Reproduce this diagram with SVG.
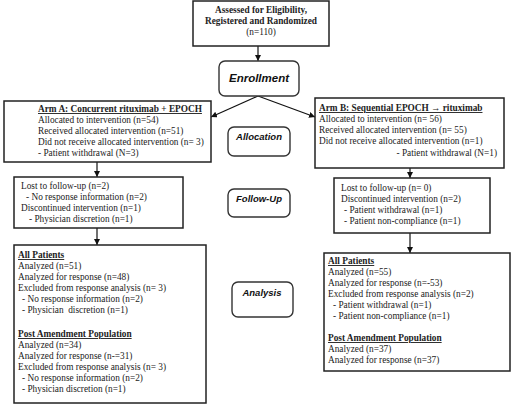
<svg xmlns="http://www.w3.org/2000/svg" width="520" height="405" viewBox="0 0 520 405">
<defs>
<marker id="ah" viewBox="0 0 10 10" refX="10" refY="5" markerWidth="6" markerHeight="6" orient="auto" markerUnits="userSpaceOnUse">
<path d="M0,0 L10,5 L0,10 z" fill="#111"/>
</marker>
<style>
.box{fill:#fff;stroke:#222;stroke-width:1.5}
.rbox{fill:#fff;stroke:#333;stroke-width:1.4}
.t{font-family:"Liberation Serif","Times New Roman",serif;font-size:9.3px;fill:#222;white-space:pre}
.b{font-weight:bold}
.u{text-decoration:underline}
.lbl{font-family:"Liberation Sans",Arial,sans-serif;font-weight:bold;font-style:italic;font-size:9.5px;fill:#111;text-anchor:middle}
.c{text-anchor:middle}
.con{stroke:#111;stroke-width:1.2;fill:none;marker-end:url(#ah)}
</style>
</defs>
<rect width="520" height="405" fill="#fff"/>

<g id="connectors">
<line class="con" x1="258" y1="46" x2="258" y2="61"/>
<line class="con" x1="258" y1="96" x2="211" y2="117"/>
<line class="con" x1="258" y1="96" x2="315" y2="117"/>
<line class="con" x1="97" y1="162" x2="97" y2="177"/>
<line class="con" x1="97" y1="228" x2="97" y2="245"/>
<line class="con" x1="410" y1="168" x2="410" y2="178"/>
<line class="con" x1="410" y1="233" x2="410" y2="253"/>
</g>

<g id="assessed">
<rect class="box" x="193" y="1" width="136" height="45"/>
<text class="t b c" x="261" y="13">Assessed for Eligibility,</text>
<text class="t b c" x="261" y="24">Registered and Randomized</text>
<text class="t c" x="261" y="35">(n=110)</text>
</g>

<g id="enrollment">
<rect class="rbox" x="219" y="61" width="80" height="35" rx="6"/>
<text class="lbl" x="259" y="82" style="font-size:11.5px">Enrollment</text>
</g>

<g id="armA">
<rect class="box" x="4" y="101" width="207" height="61"/>
<text class="t b u" x="38" y="112">Arm A: Concurrent rituximab + EPOCH</text>
<text class="t" x="38" y="123">Allocated to intervention (n=54)</text>
<text class="t" x="38" y="134">Received allocated intervention (n=51)</text>
<text class="t" x="38" y="145">Did not receive allocated intervention (n= 3)</text>
<text class="t" x="38" y="156">- Patient withdrawal (N=3)</text>
</g>

<g id="armB">
<rect class="box" x="315" y="98" width="189" height="70"/>
<text class="t b u" x="319" y="111">Arm B: Sequential EPOCH → rituximab</text>
<text class="t" x="319" y="122">Allocated to intervention (n= 56)</text>
<text class="t" x="319" y="133">Received allocated intervention (n= 55)</text>
<text class="t" x="319" y="144">Did not receive allocated intervention (n=1)</text>
<text class="t" x="497" y="156" text-anchor="end">- Patient withdrawal (N=1)</text>
</g>

<g id="allocation">
<rect class="rbox" x="228" y="127" width="62" height="29" rx="6"/>
<text class="lbl" x="259" y="140">Allocation</text>
</g>

<g id="followupA">
<rect class="box" x="14" y="177" width="169" height="51"/>
<text class="t" x="21" y="189">Lost to follow-up (n=2)</text>
<text class="t" x="26" y="200">- No response information (n=2)</text>
<text class="t" x="21" y="211">Discontinued intervention (n=1)</text>
<text class="t" x="29" y="222">- Physician discretion (n=1)</text>
</g>

<g id="followup">
<rect class="rbox" x="228" y="189" width="62" height="28" rx="6"/>
<text class="lbl" x="259" y="202">Follow-Up</text>
</g>

<g id="followupB">
<rect class="box" x="334" y="178" width="156" height="55"/>
<text class="t" x="341" y="191">Lost to follow-up (n= 0)</text>
<text class="t" x="341" y="202">Discontinued intervention (n=2)</text>
<text class="t" x="344" y="213">- Patient withdrawal (n=1)</text>
<text class="t" x="344" y="224">- Patient non-compliance (n=1)</text>
</g>

<g id="analysisA">
<rect class="box" x="14" y="245" width="192" height="158"/>
<text class="t b u" x="18" y="258">All Patients</text>
<text class="t" x="18" y="269">Analyzed (n=51)</text>
<text class="t" x="18" y="280">Analyzed for response (n=48)</text>
<text class="t" x="18" y="291">Excluded from response analysis (n= 3)</text>
<text class="t" x="22" y="302">- No response information (n=2)</text>
<text class="t" x="22" y="313">- Physician  discretion (n=1)</text>
<text class="t b u" x="18" y="337">Post Amendment Population</text>
<text class="t" x="18" y="348">Analyzed (n=34)</text>
<text class="t" x="18" y="359">Analyzed for response (n-=31)</text>
<text class="t" x="18" y="370">Excluded from response analysis (n= 3)</text>
<text class="t" x="22" y="381">- No response information (n=2)</text>
<text class="t" x="22" y="392">- Physician discretion (n=1)</text>
</g>

<g id="analysis">
<rect class="rbox" x="232" y="282" width="61" height="35" rx="6"/>
<text class="lbl" x="262" y="296">Analysis</text>
</g>

<g id="analysisB">
<rect class="box" x="324" y="253" width="186" height="118"/>
<text class="t b u" x="328" y="264">All Patients</text>
<text class="t" x="328" y="275">Analyzed (n=55)</text>
<text class="t" x="328" y="286">Analyzed for response (n=-53)</text>
<text class="t" x="328" y="297">Excluded from response analysis (n=2)</text>
<text class="t" x="333" y="308">- Patient withdrawal (n=1)</text>
<text class="t" x="333" y="319">- Patient non-compliance (n=1)</text>
<text class="t b u" x="328" y="341">Post Amendment Population</text>
<text class="t" x="328" y="352">Analyzed (n=37)</text>
<text class="t" x="328" y="363">Analyzed for response (n=37)</text>
</g>
</svg>
